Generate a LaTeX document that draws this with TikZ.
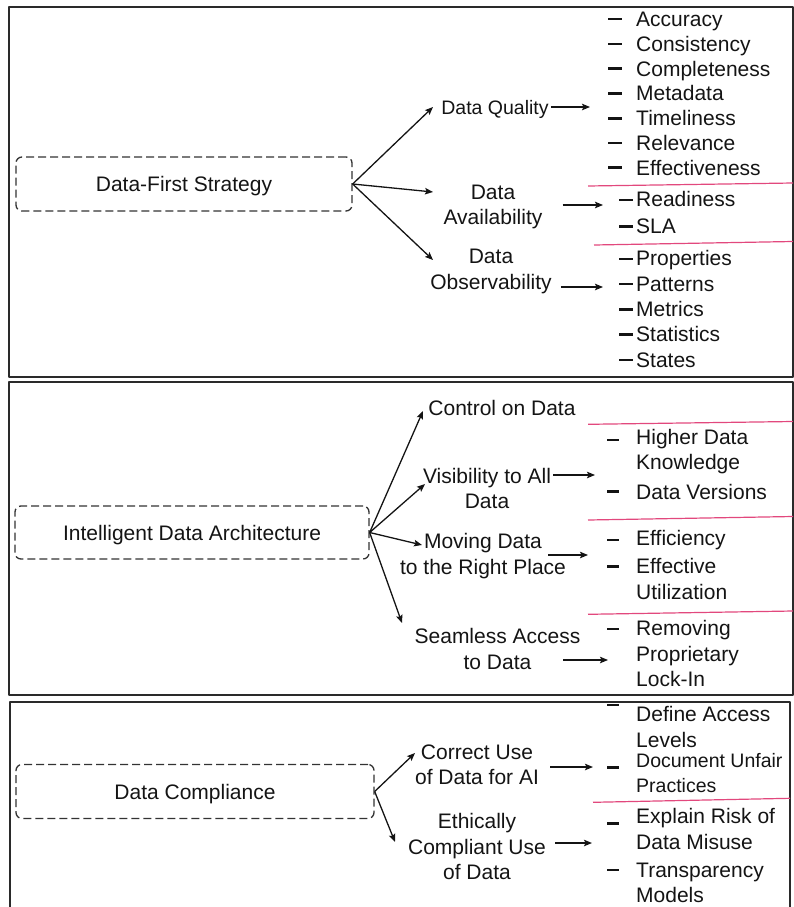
\documentclass[tikz,border=0pt]{standalone}
\usepackage{fontspec}
\setmainfont{Liberation Sans}
\usetikzlibrary{arrows.meta}
\definecolor{frameCol}{HTML}{2A2A2A}
\definecolor{boxEdge}{HTML}{333333}
\definecolor{inkCol}{HTML}{141414}
\definecolor{sepPink}{HTML}{E2487D}

\begin{document}
\begin{tikzpicture}[x=1pt, y=-1pt, line join=round]

\tikzset{
  panel/.style={draw=frameCol, line width=1.4pt},
  topic/.style={draw=boxEdge, line width=1.3pt, dash pattern=on 8pt off 4pt,
                rounded corners=6pt, inner sep=0pt, text height=15pt, text depth=0pt},
  sub/.style={anchor=base, align=center, inner sep=0pt},
  item/.style={anchor=base west, align=left, inner sep=0pt},
  arr/.style={inkCol, line width=1.3pt,
              -{Stealth[length=8pt, width=6.5pt, inset=1.5pt]}},
  bul/.style={inkCol, line width=2.6pt},
  sep/.style={sepPink, line width=1.2pt},
  every node/.style={font=\fontsize{21}{25.5}\selectfont, text=inkCol},
}

\useasboundingbox (0,0) rectangle (794,907);

% panels (base of a multi-line node = its last line)
\draw[panel] (9,7) rectangle (793,377);
\draw[panel] (9,382) rectangle (793,695);
\draw[panel] (10,907) |- (790,702) -- (790,907);

% topics
\node[topic, minimum width=336pt, minimum height=54pt] (dfs) at (184,184) {Data-First Strategy};
\node[topic, minimum width=354pt, minimum height=53pt] (ida) at (192,532.5) {Intelligent Data Architecture};
\node[topic, minimum width=358pt, minimum height=54pt] (dco) at (195,791.5) {Data Compliance};

% first panel
\node[sub, font=\fontsize{19.5}{25.5}\selectfont] (qual) at (495,114.5) {Data Quality};
\node[sub] (avail) at (493,224.5) {Data\\Availability};
\node[sub] (obs) at (491,289) {Data\\Observability};

\coordinate (qualIn) at (433,107);
\coordinate (availIn) at (433,192);
\coordinate (obsIn) at (433,260);
\coordinate (qualTo) at (590,107);
\coordinate (availTo) at (603,205);
\coordinate (obsTo) at (603,287);

\draw[arr] (dfs.east) -- (qualIn);
\draw[arr] (dfs.east) -- (availIn);
\draw[arr] (dfs.east) -- (obsIn);
\draw[arr, shorten <=2pt] (qual.east |- qualTo) -- (qualTo);
\draw[arr, shorten <=20pt] (avail.east |- availTo) -- (availTo);
\draw[arr, shorten <=9pt] (obs.east |- obsTo) -- (obsTo);

\foreach \t [count=\i from 0] in {Accuracy, Consistency, Completeness, Metadata,
                                  Timeliness, Relevance, Effectiveness} {
  \node[item] (q\i) at (636, {26.7+24.75*\i}) {\t};
  \draw[bul] ([xshift=-28pt, yshift=7.5pt]q\i.base west) -- ++(14,0);
}

\node[item] (rdy) at (636,206.8) {Readiness};
\node[item] (sla) at (636,233.5) {SLA};
\foreach \n in {rdy, sla}
  \draw[bul] ([xshift=-17pt, yshift=7pt]\n.base west) -- ++(14,0);

\foreach \t [count=\i from 0] in {Properties, Patterns, Metrics, Statistics, States} {
  \node[item] (o\i) at (636, {265.8+25.3*\i}) {\t};
  \draw[bul] ([xshift=-17pt, yshift=7pt]o\i.base west) -- ++(14,0);
}

\draw[sep] (588,186) -- (793,183);
\draw[sep] (594,245) -- (793,241.5);

% second panel
\node[sub] (ctrl) at (502,415.8) {Control on Data};
\node[sub] (vis) at (487,508.5) {Visibility to All\\Data};
\node[sub] (move) at (483,574) {Moving Data\\to the Right Place};
\node[sub] (seam) at (497.5,669) {Seamless Access\\to Data};

\coordinate (ctrlIn) at (423,411);
\coordinate (visIn) at (425,484);
\coordinate (moveIn) at (422,545);
\coordinate (seamIn) at (402,623);
\coordinate (visTo) at (595,475);
\coordinate (moveTo) at (588,555);
\coordinate (seamTo) at (608,660);

\draw[arr] (ida.east) -- (ctrlIn);
\draw[arr] (ida.east) -- (visIn);
\draw[arr] (ida.east) -- (moveIn);
\draw[arr] (ida.east) -- (seamIn);
\draw[arr, shorten <=2pt] (vis.east |- visTo) -- (visTo);
\draw[arr, shorten <=-18pt] (move.east |- moveTo) -- (moveTo);
\draw[arr, shorten <=-17.5pt] (seam.east |- seamTo) -- (seamTo);

\node[item] (hdk) at (636,469.5) {Higher Data\\Knowledge};
\node[item] (dver) at (636,499.8) {Data Versions};
\node[item] (effi) at (636,545.8) {Efficiency};
\node[item] (effu) at (636,599) {Effective\\Utilization};
\node[item] (rpl) at (636,686.5) {Removing\\Proprietary\\Lock-In};
\foreach \y in {440, 491.7, 540, 566.7, 629}
  \draw[bul] (607,\y) -- ++(12,0);

\draw[sep] (588,424.3) -- (793,421.5);
\draw[sep] (588,520) -- (793,516.5);
\draw[sep] (588,614.3) -- (793,611);

% third panel
\node[sub] (corr) at (477,784.5) {Correct Use\\of Data for AI};
\node[sub] (eth) at (477,879.5) {Ethically\\Compliant Use\\of Data};

\coordinate (corrIn) at (415,753);
\coordinate (ethIn) at (395,842);
\coordinate (corrTo) at (593,767);
\coordinate (ethTo) at (592,843);

\draw[arr] (dco.east) -- (corrIn);
\draw[arr] (dco.east) -- (ethIn);
\draw[arr, shorten <=11pt] (corr.east |- corrTo) -- (corrTo);
\draw[arr, shorten <=9pt] (eth.east |- ethTo) -- (ethTo);

\node[item] (dal) at (636,747) {Define Access\\Levels};
\node[item, font=\fontsize{19.5}{25}\selectfont] (dup) at (636,792.5) {Document Unfair\\Practices};
\node[item] (erm) at (636,849.2) {Explain Risk of\\Data Misuse};
\node[item] (tmo) at (636,902.5) {Transparency\\Models};
\foreach \y in {705, 767.3, 823.3, 870}
  \draw[bul] (607,\y) -- ++(12,0);

\draw[sep] (593,802.3) -- (790,798.3);

\end{tikzpicture}
\end{document}
